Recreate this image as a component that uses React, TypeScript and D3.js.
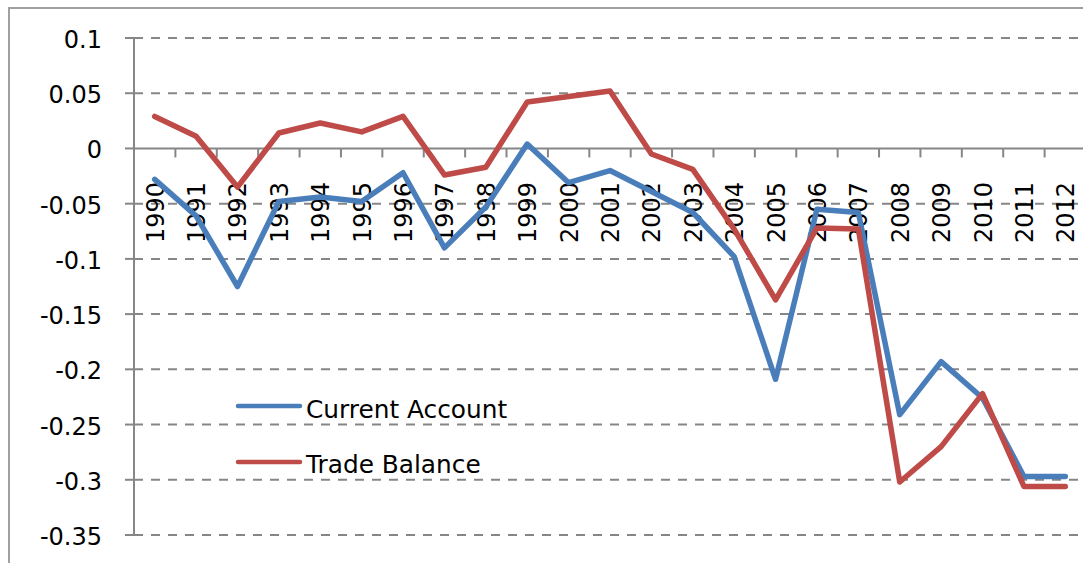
import React from "react";
import * as d3 from "d3";

const years = ["1990","1991","1992","1993","1994","1995","1996","1997","1998","1999","2000","2001","2002","2003","2004","2005","2006","2007","2008","2009","2010","2011","2012"];
const currentAccount = [-0.028,-0.061,-0.125,-0.048,-0.044,-0.048,-0.022,-0.090,-0.053,0.004,-0.031,-0.020,-0.039,-0.058,-0.098,-0.209,-0.055,-0.058,-0.241,-0.193,-0.226,-0.297,-0.297];
const tradeBalance = [0.029,0.011,-0.035,0.014,0.023,0.015,0.029,-0.024,-0.017,0.042,0.047,0.052,-0.005,-0.019,-0.073,-0.137,-0.072,-0.073,-0.302,-0.270,-0.222,-0.306,-0.306];
const yTicks = [0.1,0.05,0,-0.05,-0.1,-0.15,-0.2,-0.25,-0.3,-0.35];
const seriesNames = ["Current Account","Trade Balance"];
const seriesColors = ["#4A7EBB","#BE4B48"];

const W = 1083, H = 563;
const FONT = "'DejaVu Sans', sans-serif";

export default function App() {
  const x = d3.scaleBand<string>().domain(years).range([134, 1086]).padding(0);
  const y = d3.scaleLinear().domain([-0.35, 0.1]).range([535, 38]);
  const line = d3.line<number>()
    .x((_, i) => (x(years[i]) as number) + x.bandwidth() / 2)
    .y((d) => y(d));
  const series = [currentAccount, tradeBalance];
  const fmt = (v: number) => (v === 0 ? "0" : String(+v.toFixed(2)));
  const grid = "#868686";
  return (
    <svg width={W} height={H} style={{ position: "absolute", left: 0, top: 0, background: "#fff" }}>
      <rect x={9} y={8} width={1200} height={700} fill="#fff" stroke="#a0a0a0" strokeWidth={2} />
      {yTicks.map((t) => (
        <g key={t}>
          {t !== 0 && (
            <line x1={134} x2={1090} y1={y(t)} y2={y(t)} stroke={grid} strokeWidth={2} strokeDasharray="9 8" />
          )}
          <line x1={125} x2={134} y1={y(t)} y2={y(t)} stroke={grid} strokeWidth={2} />
          <text x={102} y={y(t) + 10} textAnchor="end" fontFamily={FONT} fontSize={24} fill="#000">
            {fmt(t)}
          </text>
        </g>
      ))}
      <line x1={134} x2={134} y1={y(0.1)} y2={y(-0.35)} stroke={grid} strokeWidth={2} />
      <line x1={134} x2={1090} y1={y(0)} y2={y(0)} stroke={grid} strokeWidth={2} />
      {years.map((yr) => (
        <line key={"t" + yr} x1={(x(yr) as number) + x.bandwidth()} x2={(x(yr) as number) + x.bandwidth()} y1={y(0)} y2={y(0) + 9} stroke={grid} strokeWidth={2} />
      ))}
      {years.map((yr) => {
        const cx = (x(yr) as number) + x.bandwidth() / 2;
        return (
          <text key={"l" + yr} transform={`translate(${cx + 9},182) rotate(-90)`} textAnchor="end" fontFamily={FONT} fontSize={24} fill="#000">
            {yr}
          </text>
        );
      })}
      {series.map((s, i) => (
        <path key={i} d={line(s) || ""} fill="none" stroke={seriesColors[i]} strokeWidth={5.5} strokeLinejoin="round" strokeLinecap="round" />
      ))}
      {seriesNames.map((n, i) => (
        <g key={n}>
          <line x1={238} x2={300} y1={406 + i * 56} y2={406 + i * 56} stroke={seriesColors[i]} strokeWidth={4.5} strokeLinecap="round" />
          <text x={306} y={418 + i * 55} fontFamily={FONT} fontSize={24.8} fill="#000">{n}</text>
        </g>
      ))}
    </svg>
  );
}
